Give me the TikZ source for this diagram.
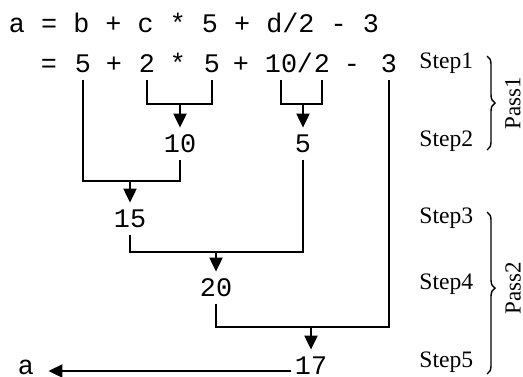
\documentclass[tikz,border=0pt]{standalone}
\usepackage{fontspec}
\setmainfont{Liberation Serif}
\setmonofont{Liberation Mono}
\usetikzlibrary{arrows.meta,decorations.pathreplacing}

\begin{document}
\begin{tikzpicture}[x=0.5pt, y=-0.5pt,
    tok/.style={font=\ttfamily\fontsize{13.4}{16}\selectfont, anchor=base,
      inner xsep=2pt, inner ysep=4pt, text height=8pt, text depth=0pt},
    etiquette/.style={font=\fontsize{11.8}{14}\selectfont, anchor=base west, inner sep=0pt},
    passe/.style={font=\fontsize{11.5}{14}\selectfont, rotate=90, inner sep=0pt},
    lien/.style={line width=1pt},
    fleche/.style={line width=1pt, -{Triangle[length=7pt,width=6.5pt]}},
    accolade/.style={line width=0.7pt, decorate, decoration={brace, amplitude=4pt}}]
        \useasboundingbox (0,0) rectangle (523,376);

        % expression de depart
        \draw (8.6,32) node[tok, anchor=base west, inner sep=0pt] (exprLine) {a = b + c * 5 + d/2 - 3};

        % deuxieme ligne, un noeud par terme
        \draw (49,72) node[tok] (eqSign) {=};
        \draw (83,72) node[tok] (5First) {5};
        \draw (114,72) node[tok] (plus1) {+};
        \draw (147,72) node[tok] (2Mul) {2};
        \draw (178,72) node[tok] (mulSign) {*};
        \draw (212,72) node[tok] (5Mul) {5};
        \draw (241,72) node[tok] (plus2) {+};
        \draw (281,72) node[tok] (10Div) {10};
        \draw (305,72) node[tok] (divSign) {/};
        \draw (322,72) node[tok] (2Div) {2};
        \draw (352,72) node[tok] (minusSign) {-};
        \draw (389,72) node[tok] (3Sub) {3};

        % resultats intermediaires
        \draw (180,152) node[tok] (10Res) {10};
        \draw (303,152) node[tok] (5Res) {5};
        \draw (130,227) node[tok] (15Res) {15};
        \draw (216,296) node[tok] (20Res) {20};
        \draw (311,374) node[tok] (17Res) {17};
        \draw (26,374) node[tok] (aRes) {a};

        % hauteur des barres horizontales
        \coordinate (bar1) at (0,104);
        \coordinate (bar2) at (0,181);
        \coordinate (bar3) at (0,252);
        \coordinate (bar4) at (0,327);

        % passe 1 : produit et quotient
        \draw[lien] (2Mul.south) |- (bar1 -| 5Mul) -- (5Mul.south);
        \draw[fleche] (bar1 -| 10Res) -- (10Res.north);
        \draw[lien] (10Div.south) |- (bar1 -| 2Div) -- (2Div.south);
        \draw[fleche] (bar1 -| 5Res) -- (5Res.north);

        % passe 2 : sommes puis soustraction
        \draw[lien] (5First.south) |- (bar2 -| 10Res) -- (10Res.south);
        \draw[fleche] (bar2 -| 15Res) -- (15Res.north);
        \draw[lien] (15Res.south) |- (bar3 -| 5Res) -- (5Res.south);
        \draw[fleche] (bar3 -| 20Res) -- (20Res.north);
        \draw[lien] (20Res.south) |- (bar4 -| 3Sub) -- (3Sub.south);
        \draw[fleche] (bar4 -| 17Res) -- (17Res.north);

        % affectation finale
        \draw[fleche, shorten >=5pt] ([yshift=1.5pt]17Res.base west) -- ([yshift=1.5pt]aRes.base east);

        % etapes et passes
        \draw (419,68) node[etiquette] (step1) {Step1};
        \draw (419,146) node[etiquette] (step2) {Step2};
        \draw (419,223) node[etiquette] (step3) {Step3};
        \draw (419,289) node[etiquette] (step4) {Step4};
        \draw (419,367) node[etiquette] (step5) {Step5};

        \draw[accolade] (487,56) -- (487,150);
        \draw (513,103) node[passe] (pass1) {Pass1};
        \draw[accolade, decoration={aspect=0.47}] (487,212) -- (487,374);
        \draw (513,288) node[passe] (pass2) {Pass2};
    \end{tikzpicture}
\end{document}
